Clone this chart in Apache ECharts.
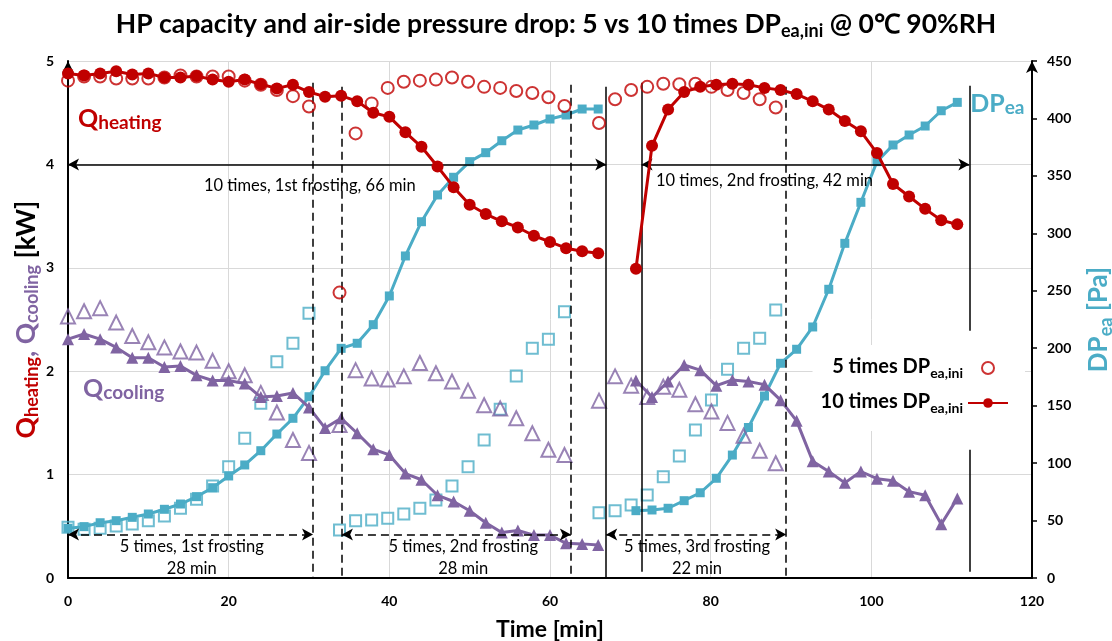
<!DOCTYPE html>
<html><head><meta charset="utf-8">
<script src="https://cdn.jsdelivr.net/npm/echarts@6/dist/echarts.min.js"></script>
<style>html,body{margin:0;padding:0;background:#fff}#c{width:1112px;height:641px}</style>
</head><body><div id="c"></div>
<script>
const RED = '#C00000', PURPLE = '#8064A2', TEAL = '#4BACC6';
const FONT = 'Lato, "Open Sans", sans-serif';

// ---- 10 times DP_ea,ini (1st and 2nd frosting) ----
const t10a = [0,2,4,6,8,10,12,14,16,18,20,22,24,26,28,30,32,34,36,38,40,42,44,46,48,50,52,54,56,58,60,62,64,66];
const t10b = [70.7,72.7,74.7,76.7,78.7,80.7,82.7,84.7,86.7,88.7,90.7,92.7,94.7,96.7,98.7,100.7,102.7,104.7,106.7,108.7,110.7];
const q10HeatA = [4.88,4.86,4.88,4.90,4.87,4.88,4.84,4.84,4.855,4.82,4.80,4.82,4.775,4.735,4.77,4.70,4.655,4.665,4.61,4.50,4.46,4.31,4.17,3.98,3.78,3.61,3.52,3.45,3.39,3.31,3.25,3.19,3.16,3.14];
const q10HeatB = [2.99,4.18,4.53,4.70,4.75,4.77,4.78,4.77,4.74,4.72,4.68,4.61,4.53,4.42,4.32,4.11,3.81,3.69,3.57,3.46,3.42];
const q10CoolA = [2.31,2.36,2.31,2.23,2.13,2.13,2.04,2.05,1.96,1.91,1.91,1.88,1.75,1.76,1.79,1.65,1.45,1.545,1.40,1.245,1.19,1.01,0.95,0.80,0.74,0.65,0.535,0.44,0.46,0.415,0.415,0.335,0.33,0.32];
const q10CoolB = [1.91,1.75,1.90,2.06,2.01,1.86,1.915,1.90,1.87,1.72,1.52,1.13,1.03,0.92,1.03,0.96,0.94,0.835,0.80,0.52,0.77];
const dp10A = [43.3,44.7,48.1,49.9,52.8,55.7,59.8,64.4,70.8,78.6,88.8,98.4,110.8,125.3,139,157.8,180.4,199.9,204.3,220.5,245.5,280.3,310.1,333.4,348.8,362.4,370.2,380.6,389.9,394.3,399.5,403,408.2,408.2];
const dp10B = [58.6,59.2,60.7,67.3,74.2,86.8,107,131,158.4,186.9,199.1,218.5,251.3,291.3,327,362.4,376.9,385.6,393.4,406.7,414];

// ---- 5 times DP_ea,ini (1st, 2nd, 3rd frosting) ----
const t5 = [0,2,4,6,8,10,12,14,16,18,20,22,24,26,28,30,
            33.8,35.8,37.8,39.8,41.8,43.8,45.8,47.8,49.8,51.8,53.8,55.8,57.8,59.8,61.8,
            66.1,68.1,70.1,72.1,74.1,76.1,78.1,80.1,82.1,84.1,86.1,88.1];
const q5Heat = [4.81,4.85,4.85,4.83,4.83,4.83,4.84,4.86,4.85,4.85,4.85,4.81,4.77,4.72,4.66,4.56,
                2.76,4.30,4.59,4.74,4.80,4.81,4.82,4.84,4.80,4.75,4.74,4.71,4.69,4.65,4.565,
                4.40,4.63,4.72,4.75,4.78,4.775,4.78,4.75,4.72,4.69,4.63,4.55];
const q5Cool = [2.53,2.58,2.61,2.47,2.34,2.28,2.23,2.19,2.18,2.10,2.00,1.96,1.79,1.60,1.335,1.21,
                1.48,2.01,1.93,1.92,1.95,2.08,1.98,1.90,1.81,1.67,1.64,1.545,1.40,1.24,1.19,
                1.715,1.95,1.86,1.75,1.85,1.82,1.68,1.61,1.50,1.375,1.23,1.11];
const dp5 = [44.1,42.4,43.2,45.3,47,49.9,54,60.7,68.5,80.1,96.9,121.6,152,188.3,204.3,230.4,
             41.8,49.9,50.5,52,55.7,60.7,67.9,80.1,96.9,120.1,146.8,175.8,199.9,207.8,231.8,
             56.8,58.6,63.5,72.2,88.2,106.2,128.8,154.9,181.6,199.9,208.6,233.3];

// ---- axis ticks ----
const xTicks = [0, 120, 20];
const yLeftTicks = [0, 5, 1];
const yRightTicks = [0, 450, 50];

// ---- annotation markers (data coordinates) ----
const dashedV = [[30.5, 4.79], [34.1, 4.75], [62.6, 4.77], [89.4, 4.75]];
const solidV = [[67, 4.75, 0], [71.4, 4.79, 0.06], [112.2, 4.76, 2.39], [112.2, 1.24, 0.06]];
const tenArrows = [[0, 67, 4], [71.4, 112.2, 4]];
const fiveArrows = [[0, 30.5, 0.42], [34.1, 62.6, 0.42], [67, 89.4, 0.42]];
const tenTexts = [['10 times, 1st frosting, 66 min', 30.1, 3.79], ['10 times, 2nd frosting, 42 min', 86.7, 3.84]];
const fiveTexts = [['5 times, 1st frosting', '28 min', 15.4], ['5 times, 2nd frosting', '28 min', 49.2], ['5 times, 3rd frosting', '22 min', 78.3]];

const pairs = (ts, vs) => ts.map((t, i) => [t, vs[i]]);

// rich-text token style; key = 'color' for echarts text, 'fill' for zrender graphic text
function tok(size, color, extra, key) {
  const o = {fontFamily: FONT, fontWeight: 'bold', fontSize: size,
    verticalAlign: 'bottom', lineHeight: Math.round(size * 1.2)};
  o[key || 'color'] = color;
  return Object.assign(o, extra || {});
}

const chart = echarts.init(document.getElementById('c'), null, {renderer: 'canvas'});

const axisLabel = {fontFamily: FONT, fontWeight: 'bold', fontSize: 14, color: '#000'};

const markLineData = [];
dashedV.forEach(d => markLineData.push([{coord: [d[0], d[1]], lineStyle: {type: [8, 5], color: '#000', width: 1.5}}, {coord: [d[0], 0]}]));
solidV.forEach(d => markLineData.push([{coord: [d[0], d[1]], lineStyle: {type: 'solid', color: '#000', width: 1.5}}, {coord: [d[0], d[2]]}]));
tenArrows.forEach(d => markLineData.push([{coord: [d[0], d[2]], symbol: 'arrow', symbolSize: [9, 11], lineStyle: {type: 'solid', color: '#000', width: 1.5}}, {coord: [d[1], d[2]], symbol: 'arrow', symbolSize: [9, 11]}]));
fiveArrows.forEach(d => markLineData.push([{coord: [d[0], d[2]], symbol: 'arrow', symbolSize: [9, 11], lineStyle: {type: [8, 5], color: '#000', width: 1.5}}, {coord: [d[1], d[2]], symbol: 'arrow', symbolSize: [9, 11]}]));

const lineSeries = (name, data, color, symbol, size, yIdx, z) => ({
  name, type: 'line', data, yAxisIndex: yIdx, z: z,
  symbol, symbolSize: size, showSymbol: true, showAllSymbol: true,
  lineStyle: {color, width: 3}, itemStyle: {color},
  emphasis: {disabled: true}, animation: false
});
const openSeries = (name, data, color, symbol, size, yIdx, z) => ({
  name, type: 'scatter', data, yAxisIndex: yIdx, z: z,
  symbol, symbolSize: size,
  itemStyle: {color: 'rgba(255,255,255,0)', borderColor: color, borderWidth: 2},
  emphasis: {disabled: true}, animation: false
});

chart.setOption({
  animation: false,
  title: {
    text: '{m|HP capacity and air-side pressure drop: 5 vs 10 times DP}{s|ea,ini}{m| @ 0℃ 90%RH}',
    left: 'center', top: 3,
    textStyle: {rich: {m: tok(26.5, '#000', {padding: [0, 0, 2, 0]}), s: tok(18, '#000')}}
  },
  legend: {
    data: ['5 times', '10 times'], orient: 'vertical', right: 87, top: 345, z: 20,
    backgroundColor: '#fff', padding: [12, 16, 16, 8],
    align: 'right', itemWidth: 40, itemHeight: 12, itemGap: 12, selectedMode: false,
    formatter: n => '{m|' + n + ' DP}{s|ea,ini}',
    textStyle: {rich: {m: tok(20, '#000', {padding: [0, 0, 3, 0]}), s: tok(14, '#000')}}
  },
  grid: {left: 68, right: 80, top: 61, bottom: 63, outerBoundsMode: 'none', containLabel: false},
  xAxis: {
    type: 'value', min: xTicks[0], max: xTicks[1], interval: xTicks[2],
    axisLine: {lineStyle: {color: '#000', width: 2}}, axisTick: {show: false},
    axisLabel: Object.assign({margin: 16}, axisLabel),
    splitLine: {show: true, lineStyle: {color: '#d9d9d9', width: 1}},
    name: 'Time [min]', nameLocation: 'middle', nameGap: 40,
    nameTextStyle: {fontFamily: FONT, fontWeight: 'bold', fontSize: 23, color: '#000'}
  },
  yAxis: [{
    type: 'value', position: 'left', min: yLeftTicks[0], max: yLeftTicks[1], interval: yLeftTicks[2],
    axisLine: {show: true, onZero: false, symbol: ['none', 'arrow'], symbolSize: [9, 12], lineStyle: {color: '#000', width: 2}},
    axisTick: {show: false},
    axisLabel: Object.assign({margin: 14}, axisLabel),
    splitLine: {show: true, lineStyle: {color: '#d9d9d9', width: 1}},
    name: '{qh|Q}{hs|heating}{cm|, }{qc|Q}{cs|cooling}{k| [kW]}',
    nameLocation: 'middle', nameRotate: 90, nameGap: 27, nameMoveOverlap: false,
    nameTextStyle: {rich: {
      qh: tok(26.5, RED, {padding: [0, 0, 1, 0]}), hs: tok(18, RED),
      cm: tok(26.5, PURPLE, {padding: [0, 0, 1, 0]}),
      qc: tok(26.5, PURPLE, {padding: [0, 0, 1, 0]}), cs: tok(18, PURPLE),
      k: tok(26.5, '#000', {padding: [0, 0, 1, 0]})
    }}
  }, {
    type: 'value', position: 'right', min: yRightTicks[0], max: yRightTicks[1], interval: yRightTicks[2],
    axisLine: {show: true, onZero: false, symbol: ['none', 'arrow'], symbolSize: [9, 12], lineStyle: {color: '#000', width: 2}},
    axisTick: {show: true, length: 5, lineStyle: {color: '#000', width: 1.5}},
    axisLabel: Object.assign({margin: 15}, axisLabel),
    splitLine: {show: false},
    name: '{m|DP}{s|ea}{m| [Pa]}',
    nameLocation: 'middle', nameRotate: 90, nameGap: 52,
    nameTextStyle: {rich: {m: tok(26, TEAL, {padding: [0, 0, 3, 0]}), s: tok(18, TEAL)}}
  }],
  series: [
    {name: 'annot', type: 'line', data: [], silent: true, animation: false,
     markLine: {silent: true, symbol: ['none', 'none'], label: {show: false}, emphasis: {disabled: true},
       animation: false, data: markLineData}},
    lineSeries('DP10', pairs(t10a, dp10A), TEAL, 'rect', 9, 1, 3),
    lineSeries('DP10', pairs(t10b, dp10B), TEAL, 'rect', 9, 1, 3),
    openSeries('DP5', pairs(t5, dp5), TEAL, 'rect', 11, 1, 3),
    lineSeries('Qc10', pairs(t10a, q10CoolA), PURPLE, 'triangle', 12, 0, 4),
    lineSeries('Qc10', pairs(t10b, q10CoolB), PURPLE, 'triangle', 12, 0, 4),
    openSeries('Qc5', pairs(t5, q5Cool), PURPLE, 'triangle', 14, 0, 4),
    lineSeries('10 times', pairs(t10a, q10HeatA), RED, 'circle', 12, 0, 5),
    lineSeries('10 times', pairs(t10b, q10HeatB), RED, 'circle', 12, 0, 5),
    openSeries('5 times', pairs(t5, q5Heat), RED, 'circle', 12, 0, 5)
  ]
});

const P = (t, v) => chart.convertToPixel({xAxisIndex: 0, yAxisIndex: 0}, [t, v]);
const graphics = [];
const plainText = (txt, t, v) => {
  const p = P(t, v);
  graphics.push({type: 'text', x: p[0], y: p[1], z: 10, silent: true,
    style: {text: txt, fontFamily: FONT, fontSize: 16.5, fill: '#000', align: 'center', verticalAlign: 'middle'}});
};
tenTexts.forEach(d => plainText(d[0], d[1], d[2]));
fiveTexts.forEach(d => { plainText(d[0], d[2], 0.30); plainText(d[1], d[2], 0.09); });

const richLabel = (main, sub, color, t, v) => {
  const p = P(t, v);
  graphics.push({type: 'text', x: p[0], y: p[1], z: 10, silent: true,
    style: {text: '{m|' + main + '}{s|' + sub + '}', align: 'left', verticalAlign: 'middle',
      fill: color, fontFamily: FONT, fontWeight: 'bold',
      rich: {m: tok(25, color, {padding: [0, 0, 1, 0]}, 'fill'), s: tok(19, color, null, 'fill')}}});
};
richLabel('Q', 'heating', RED, 1.25, 4.45);
richLabel('Q', 'cooling', PURPLE, 1.87, 1.84);
richLabel('DP', 'ea', TEAL, 112.3, 4.60);

chart.setOption({graphic: graphics});
</script></body></html>
